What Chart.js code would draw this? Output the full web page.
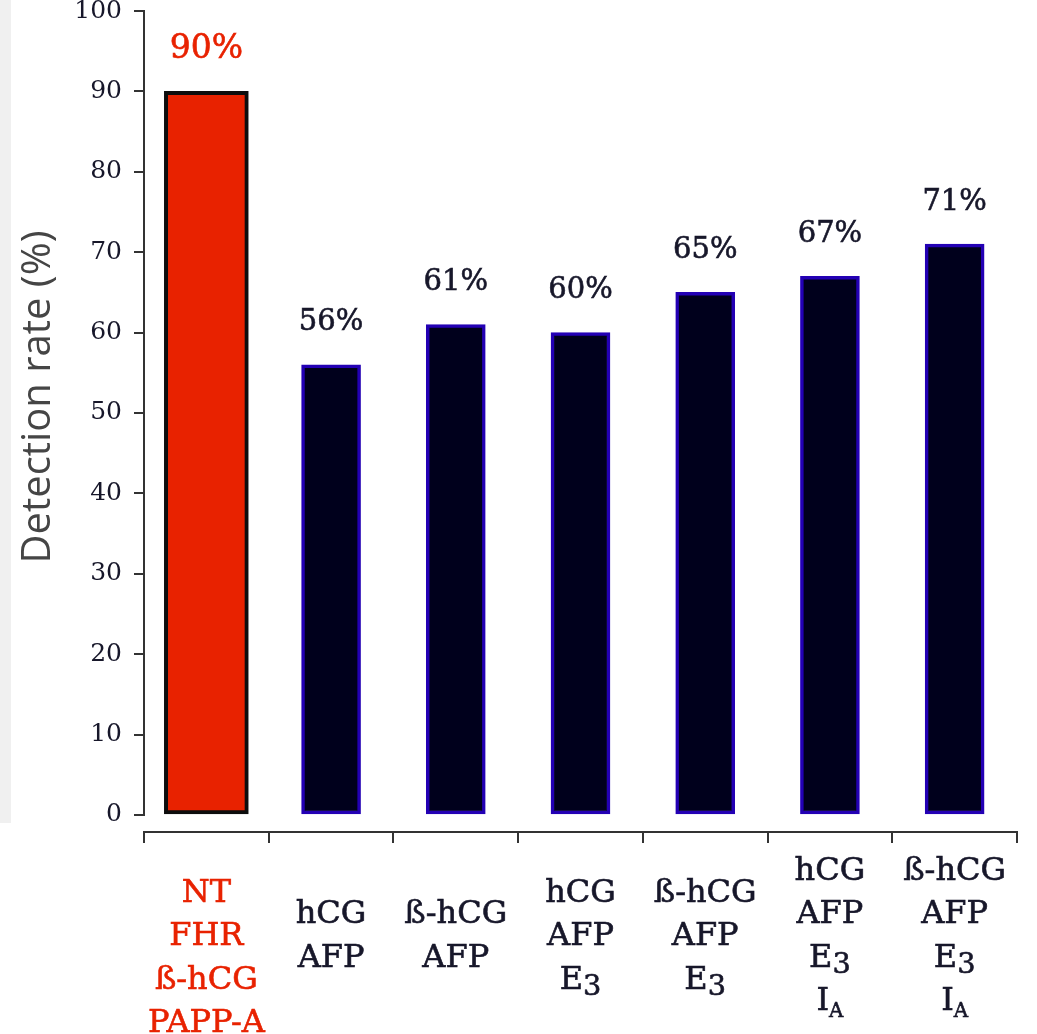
<!DOCTYPE html>
<html>
<head>
<meta charset="utf-8">
<script src="https://cdn.jsdelivr.net/npm/chart.js@4/dist/chart.umd.min.js"></script>
<style>
  html, body { margin: 0; padding: 0; background: #ffffff; }
  #wrap { position: relative; width: 1037px; height: 1034px; }
  #side { position: absolute; left: 0; top: 0; width: 11px; height: 823px; background: #f0f0f0; }
  #c { position: absolute; left: 0; top: 0; }
</style>
</head>
<body>
<div id="wrap">
  <div id="side"></div>
  <canvas id="c" width="1037" height="1034"></canvas>
</div>
<script>
// Marker combinations compared (one line per marker; "_" starts a subscript,
// "~" a lowered figure)
const categories = [
  ['NT', 'FHR', 'ß-hCG', 'PAPP-A'],
  ['hCG', 'AFP'],
  ['ß-hCG', 'AFP'],
  ['hCG', 'AFP', 'E~3'],
  ['ß-hCG', 'AFP', 'E~3'],
  ['hCG', 'AFP', 'E~3', 'I_A'],
  ['ß-hCG', 'AFP', 'E~3', 'I_A']
];

// Detection rate (%) for the first-trimester combined test
const combinedTest = [90, null, null, null, null, null, null];
// Detection rate (%) for the second-trimester serum marker sets
const serumMarkers = [null, 56, 61, 60, 65, 67, 71];

const yTicks = [0, 10, 20, 30, 40, 50, 60, 70, 80, 90, 100];
const yTitle = 'Detection rate (%)';

const RED = '#e82200';
const INK = '#17172a';
const AXIS = '#333333';
const SERIF = '"DejaVu Serif", "Liberation Serif", serif';

// Axis line for the value scale, running only from 0 to 100
const valueAxisLine = {
  id: 'valueAxisLine',
  afterDraw(chart) {
    const y = chart.scales.y;
    const ctx = chart.ctx;
    const x = chart.chartArea.left;
    ctx.save();
    ctx.strokeStyle = AXIS;
    ctx.lineWidth = 2;
    ctx.beginPath();
    ctx.moveTo(x, y.getPixelForValue(yTicks[yTicks.length - 1]) - 1);
    ctx.lineTo(x, y.getPixelForValue(yTicks[0]) + 1);
    ctx.stroke();
    ctx.restore();
  }
};

// Rotated axis title
const axisTitle = {
  id: 'axisTitle',
  afterDraw(chart) {
    const ctx = chart.ctx;
    ctx.save();
    ctx.translate(39, 397);
    ctx.rotate(-Math.PI / 2);
    ctx.font = '40px "Open Sans", "Noto Sans", sans-serif';
    ctx.fillStyle = '#454545';
    ctx.textAlign = 'center';
    ctx.textBaseline = 'middle';
    ctx.fillText(yTitle, 0, 0);
    ctx.restore();
  }
};

// Percentage printed above each bar
const valueLabels = {
  id: 'valueLabels',
  afterDatasetsDraw(chart) {
    const ctx = chart.ctx;
    ctx.save();
    ctx.textAlign = 'center';
    ctx.textBaseline = 'middle';
    ctx.lineWidth = 0.6;
    chart.data.datasets.forEach((ds, di) => {
      const meta = chart.getDatasetMeta(di);
      meta.data.forEach((bar, i) => {
        const v = ds.data[i];
        if (v === null || v === undefined) return;
        ctx.font = (di === 0 ? '33px ' : '29px ') + SERIF;
        ctx.fillStyle = di === 0 ? RED : INK;
        ctx.strokeStyle = ctx.fillStyle;
        ctx.fillText(v + '%', bar.x, bar.y - 42);
        ctx.strokeText(v + '%', bar.x, bar.y - 42);
      });
    });
    ctx.restore();
  }
};

// Multi-line category labels with subscripts, centred under each category
const categoryLabels = {
  id: 'categoryLabels',
  afterDraw(chart) {
    const xs = chart.scales.x;
    const ctx = chart.ctx;
    const size = 32;
    const pitch = 43.5;
    ctx.save();
    ctx.textBaseline = 'alphabetic';
    ctx.lineWidth = 0.6;
    categories.forEach((lines, i) => {
      const cx = xs.getPixelForValue(i);
      const midY = i === 0 ? 967 : 945;
      const first = midY - (lines.length - 1) * pitch / 2;
      ctx.fillStyle = i === 0 ? RED : INK;
      ctx.strokeStyle = ctx.fillStyle;
      lines.forEach((line, li) => {
        const base = first + li * pitch;
        let parts;
        if (line.includes('_')) {
          const [a, b] = line.split('_');
          parts = [{ t: a, s: size, dy: 0 }, { t: b, s: size * 0.62, dy: size * 0.22 }];
        } else if (line.includes('~')) {
          const [a, b] = line.split('~');
          parts = [{ t: a, s: size, dy: 0 }, { t: b, s: size * 0.9, dy: size * 0.2 }];
        } else {
          parts = [{ t: line, s: size, dy: 0 }];
        }
        let w = 0;
        parts.forEach(p => { ctx.font = p.s + 'px ' + SERIF; p.w = ctx.measureText(p.t).width; w += p.w; });
        let x = cx - w / 2;
        ctx.textAlign = 'left';
        parts.forEach(p => {
          ctx.font = p.s + 'px ' + SERIF;
          ctx.fillText(p.t, x, base + p.dy);
          ctx.strokeText(p.t, x, base + p.dy);
          x += p.w;
        });
      });
    });
    ctx.restore();
  }
};

new Chart(document.getElementById('c'), {
  type: 'bar',
  data: {
    labels: categories.map(l => l.join(' ').replace(/[_~]/g, '')),
    datasets: [
      {
        data: combinedTest,
        backgroundColor: RED,
        borderColor: '#0d0d0d',
        borderWidth: 4,
        borderSkipped: false,
        barThickness: 84,
        grouped: false
      },
      {
        data: serumMarkers,
        backgroundColor: '#00001c',
        borderColor: '#2300b4',
        borderWidth: 3.5,
        borderSkipped: false,
        barThickness: 59,
        grouped: false
      }
    ]
  },
  options: {
    responsive: false,
    animation: false,
    layout: { padding: { top: 11, right: 20, left: 0, bottom: 0 } },
    plugins: {
      legend: { display: false },
      tooltip: { enabled: false }
    },
    scales: {
      x: {
        offset: true,
        border: { display: true, color: AXIS, width: 2 },
        grid: {
          display: true,
          offset: true,
          drawOnChartArea: false,
          drawTicks: true,
          tickLength: 11,
          color: AXIS,
          lineWidth: 2
        },
        ticks: { display: false },
        afterFit(scale) { scale.height = 202; }
      },
      y: {
        min: -2.12,
        max: 100,
        border: { display: false },
        grid: {
          display: true,
          drawOnChartArea: false,
          drawTicks: true,
          tickLength: 10,
          color: AXIS,
          lineWidth: 2
        },
        afterBuildTicks(scale) {
          scale.ticks = yTicks.map(v => ({ value: v }));
        },
        ticks: {
          padding: 12,
          color: INK,
          font: { family: SERIF, size: 25, lineHeight: 0.8 },
          callback: v => String(v)
        },
        afterFit(scale) {
          scale.width = 144;
          scale.paddingTop = 0;
          scale.paddingBottom = 0;
        }
      }
    }
  },
  plugins: [valueAxisLine, axisTitle, valueLabels, categoryLabels]
});
</script>
</body>
</html>
